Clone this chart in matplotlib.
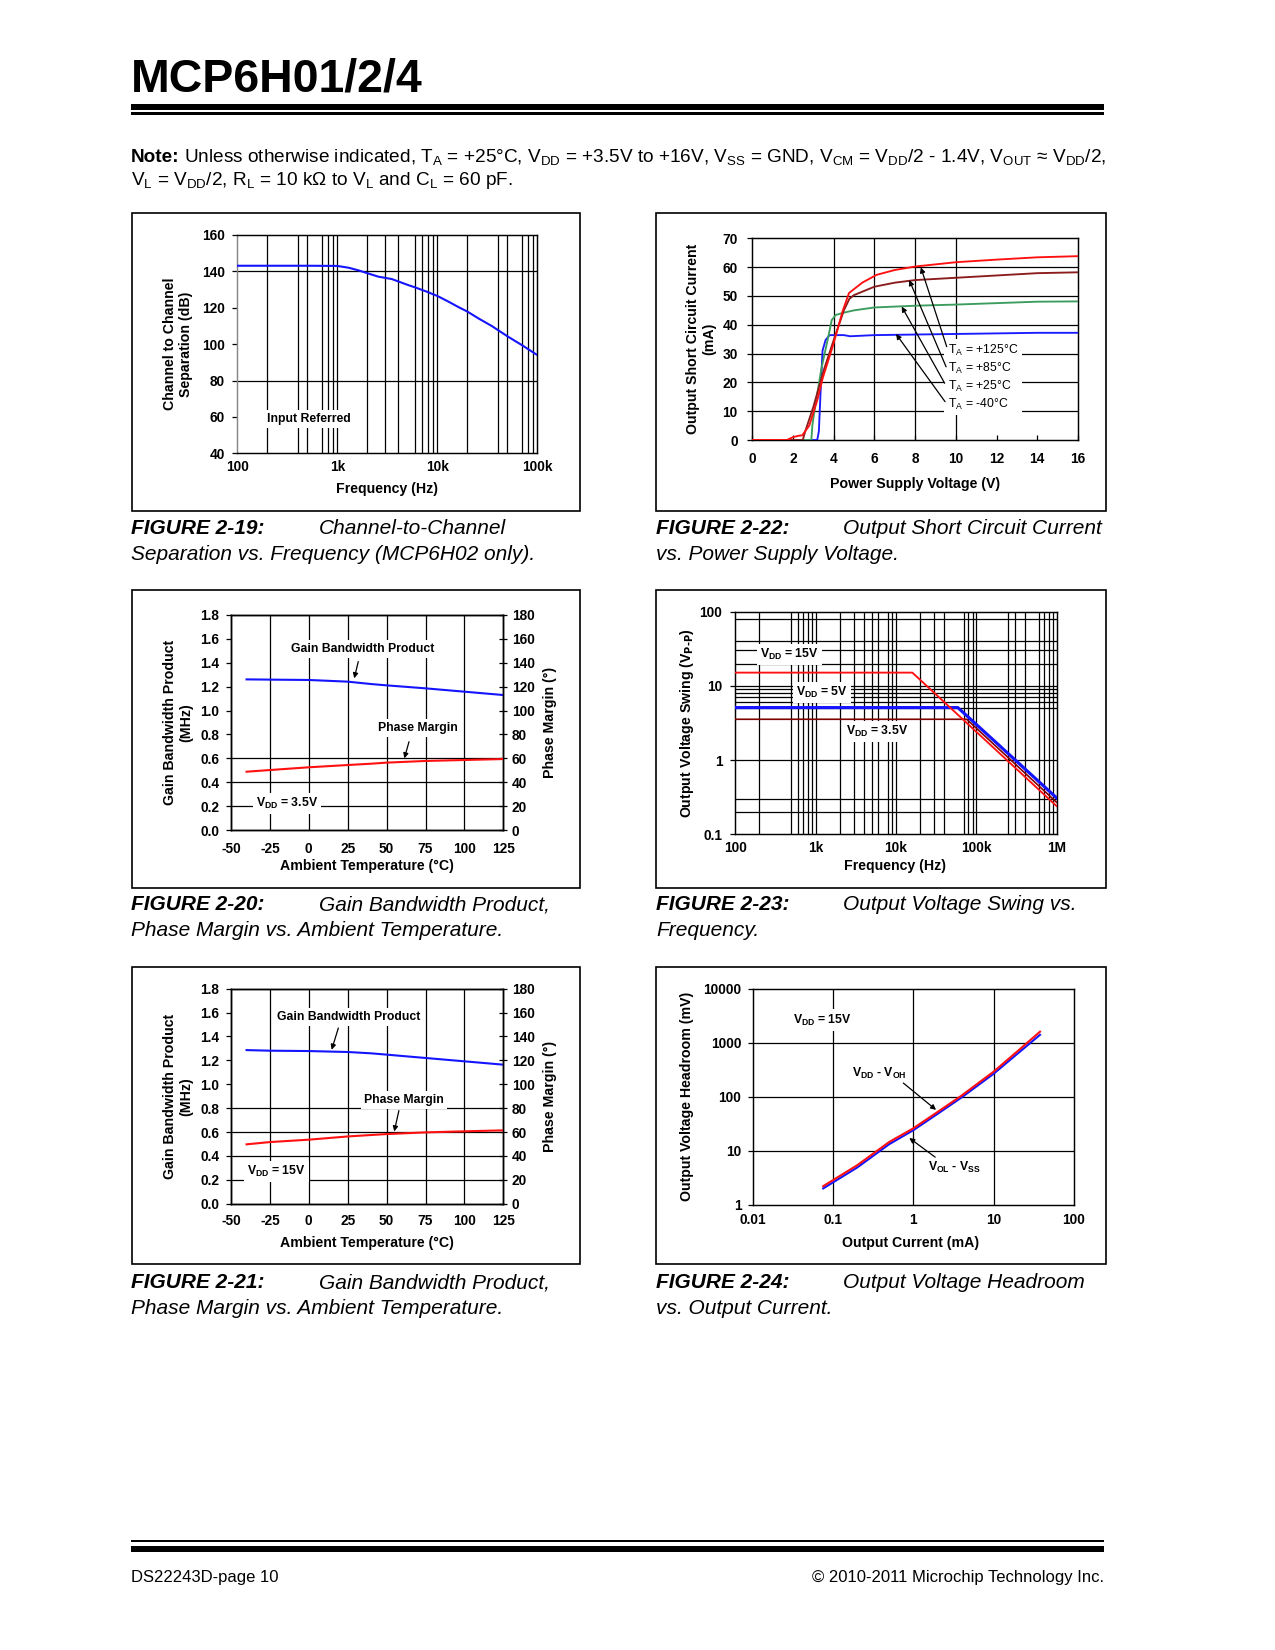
import numpy as np
import matplotlib
matplotlib.use("Agg")
import matplotlib.pyplot as plt
from matplotlib.patches import Rectangle
from matplotlib.ticker import FixedLocator, NullLocator
from matplotlib import font_manager

# ---------------- values ----------------
# FIGURE 2-19: channel separation vs frequency
sep_freq = [100, 500, 1000, 1300, 1620, 2000, 2570, 3500, 5100, 6000, 7800, 10000,
            12900, 16000, 20000, 25700, 35000, 51000, 70000, 100000]
sep_db = [143.1, 143.1, 143.0, 142.0, 140.6, 139.0, 137.1, 135.8, 132.5, 131.2, 128.9, 126.5,
          123.4, 120.6, 117.9, 114.2, 110.0, 104.1, 99.5, 94.0]
sep_vgrid = [200, 400, 500, 700, 800, 900, 1000, 2000, 3000, 4000, 6000, 7000, 8000, 9000,
             10000, 20000, 40000, 50000, 70000, 80000, 90000]
sep_hgrid = [80, 140]

# FIGURE 2-22: short circuit current vs supply voltage
sc_v_125 = [0, 1.7, 2.0, 2.3, 2.45, 2.8, 3.2, 3.46, 3.95, 4.45, 4.75, 5.4, 6.1, 7.0, 8.0, 10, 12, 14, 16]
sc_i_125 = [0, 0, 1.0, 1.5, 1.6, 5.0, 14.0, 21.5, 32.5, 45.0, 51.0, 54.6, 57.3, 59.0, 60.2, 61.7, 62.6, 63.4, 63.8]
sc_v_85 = [0, 2.48, 2.6, 3.0, 3.5, 4.0, 4.5, 4.77, 5.0, 6.0, 7.0, 8.0, 10, 12, 14, 16]
sc_i_85 = [0, 0, 3.0, 11.5, 24.0, 34.7, 45.0, 49.0, 50.3, 53.2, 54.6, 55.5, 56.3, 57.1, 57.9, 58.2]
sc_v_25 = [0, 2.9, 2.95, 3.05, 3.4, 3.7, 3.9, 4.1, 4.5, 5, 6, 8, 10, 12, 14, 16]
sc_i_25 = [0, 0, 5.0, 10.0, 25.0, 34.7, 41.6, 43.4, 44.2, 45.0, 46.0, 46.6, 47.0, 47.5, 48.0, 48.1]
sc_v_m40 = [0, 3.19, 3.27, 3.35, 3.45, 3.6, 3.8, 4.5, 4.8, 6, 10, 14, 16]
sc_i_m40 = [0, 0, 3.0, 16.0, 31.0, 34.7, 36.4, 36.4, 36.0, 36.4, 36.8, 37.2, 37.2]
sc_xticks = [0, 2, 4, 6, 8, 10, 12, 14, 16]
sc_yticks = [0, 10, 20, 30, 40, 50, 60, 70]
sc_vgrid = [4, 6, 8, 10]
sc_hgrid = [10, 20, 30, 40, 50, 60]
sc_labels = ["T$_A$ = +125°C", "T$_A$ = +85°C", "T$_A$ = +25°C", "T$_A$ = -40°C"]

# FIGURES 2-20 / 2-21: GBWP and phase margin vs temperature
temp = [-40, -25, 0, 25, 40, 50, 75, 100, 125]
gbwp_35 = [1.261, 1.259, 1.256, 1.242, 1.222, 1.211, 1.186, 1.158, 1.130]
pm_35 = [48.8, 50.2, 52.5, 54.4, 55.5, 56.4, 57.8, 58.6, 59.4]
gbwp_15 = [1.286, 1.281, 1.278, 1.270, 1.259, 1.248, 1.220, 1.192, 1.164]
pm_15 = [49.7, 51.6, 53.6, 56.3, 57.5, 58.3, 59.7, 60.6, 61.4]
temp_ticks = [-50, -25, 0, 25, 50, 75, 100, 125]
temp_vgrid = [-25, 0, 25, 50, 75, 100]
gbwp_ticks = [0.0, 0.2, 0.4, 0.6, 0.8, 1.0, 1.2, 1.4, 1.6, 1.8]
pm_ticks = [0, 20, 40, 60, 80, 100, 120, 140, 160, 180]
hgrid_20 = [0.2, 0.4, 0.6]
hgrid_21 = [0.2, 0.4, 0.6, 0.8]

# FIGURE 2-23: output voltage swing vs frequency
sw_f_15 = [100, 16000, 1e6]
sw_v_15 = [15.1, 15.1, 0.24]
sw_f_5 = [100, 59000, 1e6]
sw_v_5 = [5.1, 5.1, 0.31]
sw_f_35 = [100, 76000, 1e6]
sw_v_35 = [3.55, 3.55, 0.27]
sw_xticks = [100, 1e3, 1e4, 1e5, 1e6]
sw_xlabels = ["100", "1k", "10k", "100k", "1M"]
sw_yticks = [0.1, 1, 10, 100]
sw_ylabels = ["0.1", "1", "10", "100"]
sw_vgrid = [200, 500, 600, 700, 800, 900, 1e3, 2e3, 3e3, 4e3, 5e3, 6e3, 8e3, 9e3, 1e4,
            2e4, 3e4, 4e4, 7e4, 8e4, 9e4, 1e5, 2.5e5, 3e5, 4e5, 6e5, 7e5, 8e5, 9e5]
sw_hgrid = [0.2, 0.3, 1, 5, 6, 7, 8, 9, 10, 20, 30, 40, 80]

# FIGURE 2-24: output headroom vs output current
hr_ma = [0.075, 0.2, 0.5, 1.0, 2.0, 4.0, 10, 20, 38]
hr_voh = [2.2, 5.4, 14.5, 26, 52, 105, 290, 700, 1600]
hr_vol = [2.0, 4.9, 13.2, 24, 48, 97, 265, 630, 1400]
hr_xticks = [0.01, 0.1, 1, 10, 100]
hr_xlabels = ["0.01", "0.1", "1", "10", "100"]
hr_yticks = [1, 10, 100, 1000, 10000]
hr_ylabels = ["1", "10", "100", "1000", "10000"]

# ---------------- page setup ----------------
W, H, DPI = 1275, 1650, 150
plt.rcParams['font.family'] = ['Liberation Sans', 'DejaVu Sans']
plt.rcParams['font.weight'] = 'bold'
plt.rcParams['mathtext.default'] = 'regular'
plt.rcParams['axes.unicode_minus'] = False

names = {f.name for f in font_manager.fontManager.ttflist}
NARROW = 'Liberation Sans Narrow' if 'Liberation Sans Narrow' in names else 'Liberation Sans'

TICK_FS = 6.6
LABEL_FS = 6.8
ANN_FS = 5.9
GRID = dict(color='black', lw=0.6, zorder=1)
BOX = dict(boxstyle='square,pad=0.25', fc='white', ec='none')
ARROW = dict(arrowstyle='-|>', lw=0.6, color='black', mutation_scale=5, shrinkA=0, shrinkB=0)

fig = plt.figure(figsize=(W / DPI, H / DPI), dpi=DPI)


def px_text(x, y, s, **kw):
    return fig.text(x / W, 1 - y / H, s, **kw)


def px_rect(l, t, r, b, fill=False, lw=0.7):
    fig.add_artist(Rectangle((l / W, 1 - b / H), (r - l) / W, (b - t) / H,
                             transform=fig.transFigure, fill=fill, fc='black',
                             ec='black', lw=0 if fill else lw))


def make_axes(l, t, r, b):
    ax = fig.add_axes([l / W, 1 - b / H, (r - l) / W, (b - t) / H])
    for s in ax.spines.values():
        s.set_linewidth(0.7)
    ax.tick_params(labelsize=TICK_FS, width=0.6, colors='black')
    return ax


renderer = fig.canvas.get_renderer()

# header
title = px_text(131, 91, "MCP6H01/2/4", fontsize=30, family=[NARROW, 'Liberation Sans'],
                weight='bold', va='baseline')
tw = title.get_window_extent(renderer).width
title.set_fontsize(30 * 292 / tw)
px_rect(131, 104, 1104, 109.5, fill=True)
px_rect(131, 112.5, 1104, 114.5, fill=True)

note = px_text(131, 162, "Note:", fontsize=9.1, weight='bold', va='baseline')
nx = 131 + note.get_window_extent(renderer).width + 4
px_text(nx, 162, "Unless otherwise indicated, T$_A$ = +25°C, V$_{DD}$ = +3.5V to +16V, "
        "V$_{SS}$ = GND, V$_{CM}$ = V$_{DD}$/2 - 1.4V, V$_{OUT}$ ≈ V$_{DD}$/2,",
        fontsize=9.1, weight='normal', va='baseline')
px_text(131, 185, "V$_L$ = V$_{DD}$/2, R$_L$ = 10 kΩ to V$_L$ and C$_L$ = 60 pF.",
        fontsize=9.1, weight='normal', va='baseline')

# footer
px_rect(131, 1540, 1104, 1542, fill=True)
px_rect(131, 1546, 1104, 1552, fill=True)
px_text(131, 1582, "DS22243D-page 10", fontsize=8, weight='normal', va='baseline')
px_text(1104, 1582, "© 2010-2011 Microchip Technology Inc.", fontsize=8, weight='normal',
        va='baseline', ha='right')

# figure frames
for box in [(131.7, 213.3, 580, 511), (656.3, 213.3, 1105.7, 511),
            (131.7, 590, 580, 887.5), (656.3, 590, 1105.7, 887.5),
            (131.7, 967.3, 580, 1263.5), (656.3, 967.3, 1105.7, 1263.5)]:
    px_rect(*box, lw=0.8)

# captions
captions = [
    (131, 319, 534.5, "FIGURE 2-19:", "Channel-to-Channel", "Separation vs. Frequency (MCP6H02 only)."),
    (656, 843, 534.5, "FIGURE 2-22:", "Output Short Circuit Current", "vs. Power Supply Voltage."),
    (131, 319, 910.5, "FIGURE 2-20:", "Gain Bandwidth Product,", "Phase Margin vs. Ambient Temperature."),
    (656, 843, 910.5, "FIGURE 2-23:", "Output Voltage Swing vs.", "Frequency."),
    (131, 319, 1288.5, "FIGURE 2-21:", "Gain Bandwidth Product,", "Phase Margin vs. Ambient Temperature."),
    (656, 843, 1288.5, "FIGURE 2-24:", "Output Voltage Headroom", "vs. Output Current."),
]
for x0, x1, y0, tag, first, second in captions:
    px_text(x0, y0, tag, fontsize=10, weight='bold', style='italic', va='baseline')
    px_text(x1, y0, first, fontsize=10, weight='normal', style='italic', va='baseline')
    px_text(x0, y0 + 25, second, fontsize=10, weight='normal', style='italic', va='baseline')

# ---------------- FIGURE 2-19 ----------------
ax = make_axes(237.3, 235, 537.3, 453.3)
ax.set_xscale('log')
ax.set_xlim(100, 1e5)
ax.set_ylim(40, 160)
for f in sep_vgrid:
    ax.axvline(f, **GRID)
for v in sep_hgrid:
    ax.axhline(v, **GRID)
ax.plot(sep_freq, sep_db, color='#1414ff', lw=1.0, zorder=3)
ax.set_xticks([100, 1e3, 1e4, 1e5], ["100", "1k", "10k", "100k"])
ax.xaxis.set_minor_locator(NullLocator())
ax.set_yticks(range(40, 161, 20))
ax.tick_params(axis='x', length=0, pad=3)
ax.tick_params(axis='y', direction='out', length=2.4, pad=3.4)
ax.spines['left'].set_color('#888888')
ax.text(525, 59, "Input Referred", ha='center', va='center', fontsize=ANN_FS, bbox=BOX, zorder=4)
px_text(178, 344, "Channel to Channel\nSeparation (dB)", rotation=90, ha='center', va='center',
        fontsize=LABEL_FS, multialignment='center')
px_text(387, 489, "Frequency (Hz)", ha='center', va='center', fontsize=LABEL_FS)

# ---------------- FIGURE 2-22 ----------------
ax = make_axes(752.3, 238.3, 1078, 440)
ax.set_xlim(0, 16)
ax.set_ylim(0, 70)
for v in sc_vgrid:
    ax.axvline(v, **GRID)
for v in sc_hgrid:
    ax.axhline(v, **GRID)
ax.plot(sc_v_m40, sc_i_m40, color='#1a1aff', lw=0.9, zorder=3)
ax.plot(sc_v_25, sc_i_25, color='#3c9c5e', lw=0.9, zorder=3)
ax.plot(sc_v_85, sc_i_85, color='#8b1c1c', lw=0.9, zorder=3)
ax.plot(sc_v_125, sc_i_125, color='#ff1010', lw=0.9, zorder=3)
ax.set_xticks(sc_xticks)
ax.set_yticks(sc_yticks)
ax.tick_params(axis='x', direction='in', length=2.5, pad=5.8)
ax.tick_params(axis='y', direction='out', length=2.4, pad=4.6)
ax.text(9.62, 21.8, "\n".join(sc_labels), ha='left', va='center', fontsize=5.9,
        weight='normal', linespacing=1.25,
        bbox=dict(boxstyle='square,pad=0.3', fc='white', ec='none'), zorder=4)
for tail, tip in [((9.55, 32.4), (8.28, 59.9)), ((9.52, 25.4), (7.71, 55.5)),
                  ((9.45, 19.7), (7.34, 46.3)), ((9.47, 13.3), (7.06, 36.8))]:
    ax.annotate("", xy=tip, xytext=tail, arrowprops=ARROW, zorder=5)
px_text(701, 339, "Output Short Circuit Current\n(mA)", rotation=90, ha='center', va='center',
        fontsize=LABEL_FS, multialignment='center')
px_text(915, 484, "Power Supply Voltage (V)", ha='center', va='center', fontsize=LABEL_FS)


# ---------------- FIGURES 2-20 / 2-21 ----------------
def gbw_panel(top, bottom, gbwp, pm, hgrid, vdd_text, vdd_xy, gbw_xy, gbw_arrow,
              pm_xy, pm_arrow, xlabel_y, xpad):
    ax = make_axes(231, top, 503.3, bottom)
    ax.set_xlim(-50, 125)
    ax.set_ylim(0, 1.8)
    for v in temp_vgrid:
        ax.axvline(v, **GRID)
    for v in hgrid:
        ax.axhline(v, **GRID)
    ax.plot(temp, gbwp, color='#1414ff', lw=1.0, zorder=3)
    ax.set_xticks(temp_ticks)
    ax.set_yticks(gbwp_ticks, [f"{v:.1f}" for v in gbwp_ticks])
    ax.tick_params(axis='x', length=0, pad=xpad)
    ax.tick_params(axis='y', direction='out', length=2.2, pad=3.4)
    ax.text(*gbw_xy, "Gain Bandwidth Product", ha='center', va='center', fontsize=ANN_FS,
            bbox=BOX, zorder=4)
    ax.annotate("", xy=gbw_arrow[1], xytext=gbw_arrow[0], arrowprops=ARROW, zorder=5)
    ax.text(*pm_xy, "Phase Margin", ha='center', va='center', fontsize=ANN_FS, bbox=BOX, zorder=4)
    ax.annotate("", xy=pm_arrow[1], xytext=pm_arrow[0], arrowprops=ARROW, zorder=5)
    ax.text(*vdd_xy, vdd_text, ha='center', va='center', fontsize=ANN_FS, bbox=BOX, zorder=4)

    tw = ax.twinx()
    tw.set_ylim(0, 180)
    for s in tw.spines.values():
        s.set_linewidth(0.7)
    tw.plot(temp, pm, color='#ff1010', lw=1.0, zorder=3)
    tw.set_yticks(pm_ticks)
    tw.tick_params(axis='y', direction='inout', length=4.2, width=0.6, pad=2.0, labelsize=TICK_FS)

    mid = (top + bottom) / 2
    px_text(178, mid, "Gain Bandwidth Product\n(MHz)", rotation=90, ha='center', va='center',
            fontsize=LABEL_FS, multialignment='center')
    px_text(550, mid, "Phase Margin (°)", rotation=90, ha='center', va='center', fontsize=LABEL_FS)
    px_text(367, xlabel_y, "Ambient Temperature (°C)", ha='center', va='center', fontsize=LABEL_FS)


gbw_panel(615, 830, gbwp_35, pm_35, hgrid_20, "V$_{DD}$ = 3.5V", (-13.8, 0.223),
          (34.6, 1.513), ((31.8, 1.41), (29.2, 1.27)),
          (70.4, 0.851), ((64.4, 0.739), (61.4, 0.60)), 866, 5.6)
gbw_panel(988.7, 1203.7, gbwp_15, pm_15, hgrid_21, "V$_{DD}$ = 15V", (-20.7, 0.271),
          (25.4, 1.56), ((19.0, 1.471), (14.7, 1.289)),
          (61.4, 0.871), ((57.9, 0.779), (54.9, 0.605)), 1243, 5.0)

# ---------------- FIGURE 2-23 ----------------
ax = make_axes(735.3, 611.7, 1056.6, 834.3)
ax.set_xscale('log')
ax.set_yscale('log')
ax.set_xlim(100, 1e6)
ax.set_ylim(0.1, 100)
for f in sw_vgrid:
    ax.axvline(f, **GRID)
for v in sw_hgrid:
    ax.axhline(v, **GRID)
ax.plot(sw_f_35, sw_v_35, color='#800000', lw=0.8, zorder=3)
ax.plot(sw_f_5, sw_v_5, color='#1414ff', lw=1.5, zorder=3)
ax.plot(sw_f_15, sw_v_15, color='#ff1010', lw=0.9, zorder=3)
ax.set_xticks(sw_xticks, sw_xlabels)
ax.set_yticks(sw_yticks, sw_ylabels)
ax.xaxis.set_minor_locator(NullLocator())
ax.yaxis.set_minor_locator(NullLocator())
ax.tick_params(axis='x', length=0, pad=3.2)
ax.tick_params(axis='y', direction='out', length=2.2, pad=4.0)
ax.text(474, 26.6, "V$_{DD}$ = 15V", ha='center', va='center', fontsize=ANN_FS, bbox=BOX, zorder=4)
ax.text(1200, 8.1, "V$_{DD}$ = 5V", ha='center', va='center', fontsize=ANN_FS, bbox=BOX, zorder=4)
ax.text(5800, 2.42, "V$_{DD}$ = 3.5V", ha='center', va='center', fontsize=ANN_FS, bbox=BOX, zorder=4)
px_text(687, 723, r"Output Voltage Swing (V$_{\text{P-P}}$)", rotation=90, ha='center',
        va='center', fontsize=LABEL_FS)
px_text(895, 866, "Frequency (Hz)", ha='center', va='center', fontsize=LABEL_FS)

# ---------------- FIGURE 2-24 ----------------
ax = make_axes(753, 988.7, 1073.7, 1204.7)
ax.set_xscale('log')
ax.set_yscale('log')
ax.set_xlim(0.01, 100)
ax.set_ylim(1, 10000)
ax.xaxis.set_minor_locator(NullLocator())
ax.yaxis.set_minor_locator(NullLocator())
for v in hr_xticks[1:-1]:
    ax.axvline(v, **GRID)
for v in hr_yticks[1:-1]:
    ax.axhline(v, **GRID)
ax.plot(hr_ma, hr_vol, color='#1414ff', lw=1.0, zorder=3)
ax.plot(hr_ma, hr_voh, color='#ff1010', lw=1.0, zorder=3)
ax.set_xticks(hr_xticks, hr_xlabels)
ax.set_yticks(hr_yticks, hr_ylabels)
ax.tick_params(axis='x', length=0, pad=4.2)
ax.tick_params(axis='y', direction='out', length=2.2, pad=3.4)
ax.text(0.074, 2630, "V$_{DD}$ = 15V", ha='center', va='center', fontsize=ANN_FS, bbox=BOX, zorder=4)
ax.text(0.38, 274, "V$_{DD}$ - V$_{OH}$", ha='center', va='center', fontsize=ANN_FS,
        bbox=BOX, zorder=4)
ax.annotate("", xy=(1.92, 57), xytext=(0.75, 179), arrowprops=ARROW, zorder=5)
ax.text(3.25, 4.9, "V$_{OL}$ - V$_{SS}$", ha='center', va='center', fontsize=ANN_FS,
        bbox=BOX, zorder=4)
ax.annotate("", xy=(0.89, 17.2), xytext=(1.87, 7.6), arrowprops=ARROW, zorder=5)
px_text(687, 1096, "Output Voltage Headroom (mV)", rotation=90, ha='center', va='center',
        fontsize=LABEL_FS)
px_text(911, 1243, "Output Current (mA)", ha='center', va='center', fontsize=LABEL_FS)

fig.savefig("out.png", dpi=DPI, facecolor='white')
